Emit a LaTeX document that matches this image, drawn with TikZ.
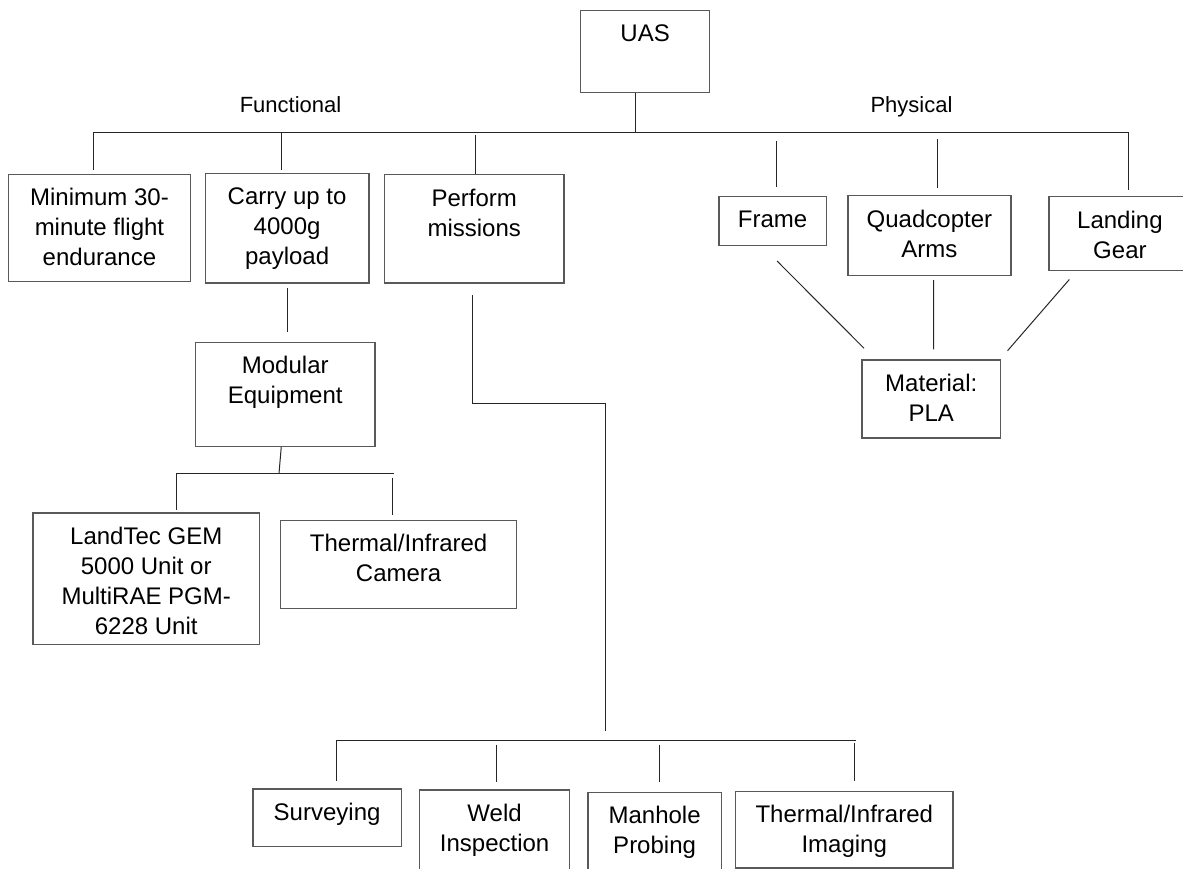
\documentclass[tikz,border=0pt]{standalone}
\usepackage{fontspec}
\setmainfont{Liberation Sans}

\tikzset{
  box/.style={draw=black!65, line width=1.2pt, inner sep=0pt, anchor=north west},
  boxtext/.style={anchor=north, align=center, inner xsep=0pt, inner ysep=14.5pt, font=\fontsize{24}{30}\selectfont},
  side/.style={anchor=base, font=\fontsize{22}{26}\selectfont},
  wire/.style={draw=black!85, line width=1pt},
}

\begin{document}
\begin{tikzpicture}[x=1pt, y=-1pt]
  \useasboundingbox (0,0) rectangle (1183,869);
  \clip (0,0) rectangle (1183,869);

  \node[box, minimum width=129pt, minimum height=82.6pt, label={[boxtext]north:UAS}] (uas) at (580,9.7) {};
  \node[side] (func) at (290.5,113) {Functional};
  \node[side] (phys) at (911.5,113) {Physical};

  \node[box, minimum width=182.3pt, minimum height=107.3pt, label={[boxtext]north:{Minimum 30-\\minute flight\\endurance}}] (mini) at (7.7,173.7) {};
  \node[box, minimum width=163.6pt, minimum height=109.3pt, label={[boxtext]north:{Carry up to\\4000g\\payload}}] (carry) at (204.7,173) {};
  \node[box, minimum width=179.3pt, minimum height=108pt, label={[boxtext]north:{Perform\\missions}}] (perf) at (384,174.3) {};
  \node[box, minimum width=107.4pt, minimum height=49pt, label={[boxtext]north:Frame}] (frame) at (718.3,196) {};
  \node[box, minimum width=163pt, minimum height=79.7pt, label={[boxtext]north:{Quadcopter\\Arms}}] (quad) at (847.3,195.3) {};
  \node[box, minimum width=142pt, minimum height=74pt, label={[boxtext]north:{Landing\\Gear}}] (land) at (1048.3,196) {};
  \node[box, minimum width=179.3pt, minimum height=104pt, label={[boxtext]north:{Modular\\Equipment}}] (modu) at (195,341.7) {};
  \node[box, minimum width=138.7pt, minimum height=78pt, label={[boxtext]north:{Material:\\PLA}}] (mat) at (861.3,359.3) {};
  \node[box, minimum width=226.7pt, minimum height=131.7pt, label={[boxtext]north:{LandTec GEM\\5000 Unit or\\MultiRAE PGM-\\6228 Unit}}] (gem) at (32.3,512.3) {};
  \node[box, minimum width=236pt, minimum height=88.5pt, label={[boxtext]north:{Thermal/Infrared\\Camera}}] (cam) at (280,519.5) {};
  \node[box, minimum width=148.4pt, minimum height=57.4pt, label={[boxtext]north:Surveying}] (surv) at (252.3,788.3) {};
  \node[box, minimum width=150pt, minimum height=110pt, label={[boxtext]north:{Weld\\Inspection}}] (weld) at (419,789.3) {};
  \node[box, minimum width=133.4pt, minimum height=110pt, label={[boxtext]north:{Manhole\\Probing}}] (manh) at (587.3,791.7) {};
  \node[box, minimum width=217.3pt, minimum height=76.6pt, label={[boxtext]north:{Thermal/Infrared\\Imaging}}] (img) at (735,790.7) {};

  % top bus
  \coordinate (tmini) at (93,132.3);
  \coordinate (tcarry) at (281.7,132.3);
  \coordinate (tperf) at (475.7,132.3);
  \coordinate (tuas) at (635.7,132.3);
  \coordinate (tframe) at (776,132.3);
  \coordinate (tquad) at (937,132.3);
  \coordinate (tland) at (1128,132.3);
  \draw[wire] (tmini) -- (tland);
  \draw[wire] (uas.south -| tuas) -- (tuas);
  \draw[wire, shorten >=3.5pt] (tmini) -- (tmini |- mini.north);
  \draw[wire, shorten >=3pt] (tcarry) -- (tcarry |- carry.north);
  \draw[wire, shorten <=2.7pt] (tperf) -- (tperf |- perf.north);
  \draw[wire, shorten <=8.5pt, shorten >=9pt] (tframe) -- (tframe |- frame.north);
  \draw[wire, shorten <=7pt, shorten >=7pt] (tquad) -- (tquad |- quad.north);
  \draw[wire, shorten >=6pt] (tland) -- (tland |- land.north);

  % equipment
  \draw[wire, shorten <=4.7pt, shorten >=10pt] (carry.south) -- (carry.south |- modu.north);
  \coordinate (tmodu) at (279,473.5);
  \coordinate (tgem) at (176,473.5);
  \coordinate (tcam) at (392.7,473.5);
  \coordinate (tsubR) at (394,473.5);
  \draw[wire] ([xshift=-4pt]modu.south) -- (tmodu);
  \draw[wire] (tgem) -- (tsubR);
  \draw[wire, shorten >=2pt] (tgem) -- (tgem |- gem.north);
  \draw[wire, shorten <=4pt, shorten >=4.5pt] (tcam) -- (tcam |- cam.north);

  % missions
  \coordinate (pbend) at (472.3,403.3);
  \coordinate (mbend) at (605,403.3);
  \coordinate (tmis) at (605,740);
  \draw[wire, shorten <=11.7pt, shorten >=9.3pt] (perf.south -| pbend) -- (pbend) -- (mbend) -- (tmis);
  \coordinate (tsurv) at (336,740);
  \coordinate (tweld) at (496.7,740);
  \coordinate (tmanh) at (659.3,740);
  \coordinate (timg) at (854,740);
  \coordinate (tbotR) at (856.3,740);
  \draw[wire] (tsurv) -- (tbotR);
  \draw[wire, shorten >=7.6pt] (tsurv) -- (tsurv |- surv.north);
  \draw[wire, shorten <=4.7pt, shorten >=7pt] (tweld) -- (tweld |- weld.north);
  \draw[wire, shorten <=4.7pt, shorten >=9.7pt] (tmanh) -- (tmanh |- manh.north);
  \draw[wire, shorten <=3pt, shorten >=10pt] (timg) -- (timg |- img.north);

  % material
  \draw[wire, shorten <=21pt, shorten >=15.5pt] ([xshift=-10.3pt]frame.south) -- ([xshift=13.7pt]mat.north west);
  \draw[wire, shorten <=4pt, shorten >=10pt] ([xshift=4.2pt]quad.south) -- ([xshift=2.3pt]mat.north);
  \draw[wire, shorten <=11pt, shorten >=11.4pt] ([xshift=-43.4pt]land.south) -- ([xshift=-1.1pt]mat.north east);
\end{tikzpicture}
\end{document}
